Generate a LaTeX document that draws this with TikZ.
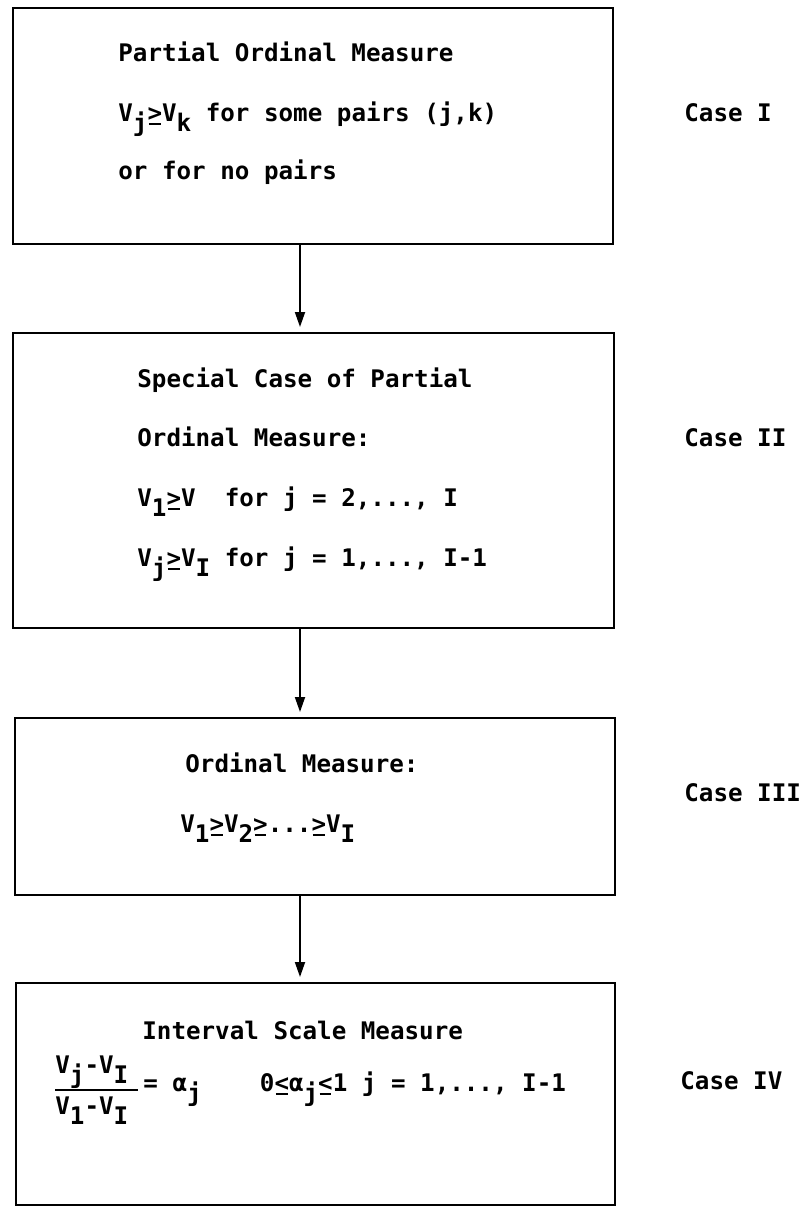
\documentclass[tikz,border=0pt]{standalone}
\usepackage{fontspec}
\setmonofont{DejaVu Sans Mono}
\usetikzlibrary{arrows.meta}
\newcommand\sbx[1]{\raisebox{-5pt}{#1}}
\newcommand\uge{\rlap{\kern0.06em\raisebox{-1.8pt}{\rule{0.48em}{0.8pt}}}>}
\newcommand\ule{\rlap{\kern0.06em\raisebox{-1.8pt}{\rule{0.48em}{0.8pt}}}<}
\begin{document}
\begin{tikzpicture}[x=0.5pt,y=-0.5pt,
  boxnode/.style={draw, line width=0.9pt, inner sep=0pt, outer sep=0pt},
  txt/.style={anchor=base west, inner sep=0pt, font=\ttfamily\bfseries\fontsize{12.1}{14}\selectfont},
  arr/.style={line width=0.9pt, -{Triangle[length=7.5pt,width=5pt]}, shorten >=3pt}]
\useasboundingbox (0,0) rectangle (808,1207);
% boxes
\node[boxnode, minimum width=300pt, minimum height=118pt] (b1) at (313,126) {};
\node[boxnode, minimum width=300.5pt, minimum height=147.5pt] (b2) at (313.5,480.5) {};
\node[boxnode, minimum width=300pt, minimum height=88.5pt] (b3) at (315,806.5) {};
\node[boxnode, minimum width=299.5pt, minimum height=111pt] (b4) at (315.5,1094) {};
\coordinate (ax) at (300,0);
% arrows
\draw[arr] (b1.south -| ax) -- (b2.north -| ax);
\draw[arr] (b2.south -| ax) -- (b3.north -| ax);
\draw[arr] (b3.south -| ax) -- (b4.north -| ax);
% box 1
\node[txt] (t11) at (118,61) {Partial Ordinal Measure};
\node[txt] (t12) at (118,121) {V\sbx{j}\uge V\sbx{k} for some pairs (j,k)};
\node[txt] (t13) at (118,179) {or for no pairs};
% box 2
\node[txt] (t21) at (137,387) {Special Case of Partial};
\node[txt] (t22) at (137,446) {Ordinal Measure:};
\node[txt] (t23) at (137,506) {V\sbx{1}\uge V\ \ for j = 2,..., I};
\node[txt] (t24) at (137,566) {V\sbx{j}\uge V\sbx{I} for j = 1,..., I-1};
% box 3
\node[txt] (t31) at (185,772) {Ordinal Measure:};
\node[txt] (t32) at (180,832) {V\sbx{1}\uge V\sbx{2}\uge...\uge V\sbx{I}};
% box 4
\node[txt] (t41) at (142,1039) {Interval Scale Measure};
\node[txt] (num) at (55,1073) {V\sbx{j}-V\sbx{I}};
\node[txt] (den) at (55,1114) {V\sbx{1}-V\sbx{I}};
\draw[line width=0.9pt] (num.south west |- 0,1090) -- (138,1090);
\node[txt] (t42) at (143,1091) {= α\sbx{j}\ \ \ \ 0\ule α\sbx{j}\ule 1 j = 1,..., I-1};
% case labels
\node[txt] (c1) at (684,121) {Case I};
\node[txt] (c2) at (684,446) {Case II};
\node[txt] (c3) at (684,801) {Case III};
\node[txt] (c4) at (680,1089) {Case IV};
\end{tikzpicture}
\end{document}
